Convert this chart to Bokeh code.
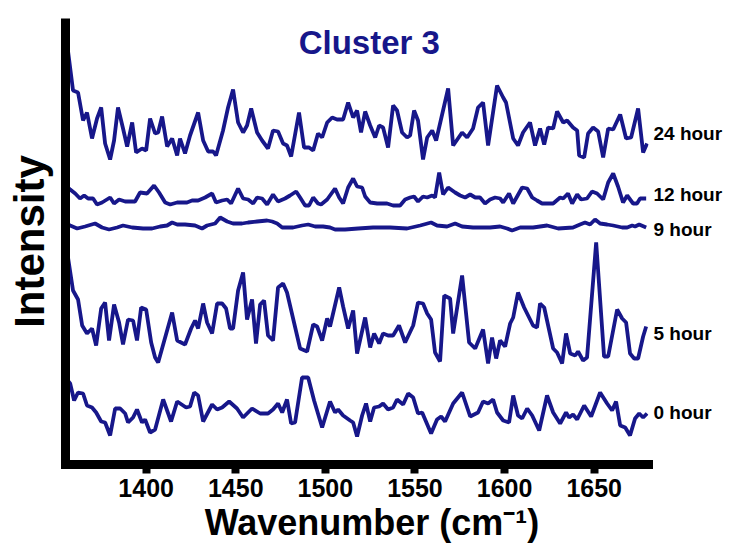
from bokeh.plotting import figure
from bokeh.models import Range1d, FixedTicker, Label, LinearAxis
from bokeh.embed import file_html
from bokeh.resources import INLINE

# ---- data (wavenumber cm-1, intensity a.u. with vertical offsets) ----
wn_24 = [1355.3,1359.2,1362.0,1364.8,1367.0,1369.8,1372.6,1374.9,1377.1,1379.9,1382.1,1384.3,1387.1,1389.4,1392.2,1394.4,1397.7,1400.0,1402.2,1405.0,1406.7,1408.9,1411.7,1414.5,1417.3,1418.9,1421.7,1424.5,1429.0,1431.8,1434.6,1437.4,1439.0,1442.9,1445.7,1448.5,1451.3,1454.1,1456.3,1458.6,1461.9,1464.7,1468.0,1470.8,1473.6,1476.4,1478.6,1480.9,1485.3,1488.1,1490.9,1493.2,1495.9,1498.2,1501.0,1503.8,1506.5,1509.9,1512.7,1515.5,1517.7,1519.9,1522.2,1525.0,1527.8,1530.0,1532.2,1535.0,1537.8,1540.0,1542.8,1545.6,1547.3,1549.5,1551.7,1554.5,1556.8,1559.6,1561.8,1568.5,1571.3,1576.3,1579.1,1582.4,1585.2,1588.0,1590.8,1595.8,1599.2,1600.8,1604.8,1607.5,1610.3,1614.2,1617.0,1619.8,1622.1,1624.3,1627.1,1629.3,1632.7,1634.9,1638.2,1640.5,1641.6,1644.4,1646.6,1649.4,1652.2,1655.0,1657.8,1660.6,1664.5,1667.8,1670.6,1674.5,1677.3,1679.5]
int_24 = [429,374,372,344,352,326,346,357,321,305,324,357,336,318,342,312,316,314,346,331,332,348,318,326,309,326,311,329,352,324,313,313,309,334,357,375,342,332,339,356,332,324,316,334,333,321,319,308,352,317,317,314,331,327,342,347,345,345,362,347,354,332,353,339,327,339,337,317,359,354,332,327,329,354,344,305,327,334,324,376,319,332,327,336,357,362,319,379,367,362,326,319,332,342,319,336,320,337,336,353,342,344,337,334,309,307,331,337,333,307,336,335,350,326,327,356,312,321]

wn_12 = [1355.3,1357.6,1360.4,1363.1,1365.4,1367.6,1370.4,1372.6,1375.4,1379.9,1382.1,1384.9,1388.3,1393.8,1396.6,1400.5,1404.4,1407.2,1410.6,1413.4,1417.3,1420.1,1422.8,1425.6,1429.0,1432.9,1436.8,1439.0,1442.4,1445.2,1447.4,1451.3,1454.1,1456.9,1459.7,1461.9,1464.7,1467.5,1470.8,1473.6,1477.5,1480.3,1483.7,1485.9,1488.7,1490.9,1493.2,1495.9,1497.6,1501.0,1505.4,1507.7,1509.9,1512.7,1515.5,1517.7,1520.5,1522.2,1525.0,1528.9,1534.4,1537.8,1541.7,1544.5,1547.3,1549.5,1551.7,1554.5,1556.8,1559.6,1561.2,1563.5,1565.7,1568.5,1572.4,1575.2,1578.0,1580.8,1583.6,1586.3,1589.1,1591.9,1594.7,1597.5,1599.2,1602.5,1604.8,1609.8,1612.6,1615.4,1618.1,1620.9,1623.7,1627.1,1631.0,1632.7,1635.4,1637.7,1640.5,1642.7,1646.0,1648.8,1651.6,1655.0,1657.8,1660.6,1663.3,1666.1,1668.4,1671.7,1673.9,1675.6,1679.0]
int_12 = [279,275,271,266,269,266,266,260,262,267,261,265,263,263,272,271,279,272,262,260,262,262,262,264,264,267,271,262,264,265,261,276,266,265,261,267,266,260,270,263,266,269,273,267,259,259,267,261,260,265,276,267,261,277,286,278,277,268,262,261,261,259,259,265,267,268,263,268,267,269,267,292,270,277,272,269,267,270,267,267,261,265,267,266,262,271,261,277,276,267,264,261,261,261,267,266,271,261,270,265,266,273,271,265,282,291,278,262,269,261,261,266,266]

wn_9 = [1355.3,1357.6,1361.5,1365.9,1371.5,1375.4,1379.3,1383.8,1387.1,1392.2,1398.3,1403.3,1407.8,1411.7,1414.5,1417.3,1421.7,1427.3,1431.2,1434.0,1438.5,1441.3,1445.2,1448.5,1453.5,1456.9,1461.9,1467.5,1470.3,1473.1,1475.9,1482.0,1487.0,1490.4,1494.3,1498.7,1502.6,1505.4,1511.0,1518.3,1526.6,1536.1,1545.6,1552.9,1559.0,1562.3,1567.9,1572.4,1576.3,1582.4,1591.9,1597.5,1601.4,1604.2,1608.7,1615.9,1623.7,1629.9,1638.2,1642.1,1644.9,1647.7,1650.5,1653.3,1657.2,1660.6,1665.6,1668.4,1671.2,1672.8,1675.1,1679.0]
int_9 = [241,239,236,238,241,237,235,237,239,237,236,236,238,239,242,240,240,239,236,239,241,247,243,241,241,242,243,244,243,241,237,237,239,240,238,238,237,235,235,236,237,237,236,239,242,239,238,241,238,237,237,238,236,234,237,237,239,236,237,240,242,240,245,241,240,239,237,237,239,238,240,237]

wn_5 = [1355.3,1359.2,1362.0,1364.3,1367.0,1369.8,1372.1,1374.9,1377.1,1379.3,1382.1,1384.9,1387.1,1389.9,1392.7,1394.9,1397.2,1400.0,1402.8,1405.0,1406.7,1414.5,1417.3,1421.7,1425.1,1427.3,1429.0,1431.8,1434.0,1436.8,1439.6,1442.4,1444.6,1446.8,1448.5,1451.3,1454.1,1456.3,1459.1,1461.3,1463.6,1465.8,1468.0,1470.8,1473.6,1476.4,1478.6,1485.9,1489.8,1493.2,1495.4,1498.2,1501.0,1502.6,1507.7,1509.9,1512.7,1515.5,1517.7,1522.2,1525.0,1527.2,1530.0,1532.2,1535.0,1537.8,1541.1,1544.5,1549.0,1551.7,1554.5,1556.8,1559.0,1561.2,1564.0,1566.3,1569.6,1571.3,1576.3,1580.2,1583.6,1588.0,1590.8,1593.0,1595.3,1597.5,1600.3,1603.1,1604.8,1607.5,1610.9,1615.9,1618.1,1619.8,1622.1,1627.1,1629.3,1632.1,1634.3,1636.6,1639.4,1641.0,1643.8,1646.0,1651.1,1655.5,1657.8,1662.8,1665.6,1667.8,1670.0,1672.3,1674.5,1677.3,1679.0]
int_5 = [220,174,165,139,131,136,119,156,162,124,160,142,120,145,144,124,157,155,122,107,102,152,124,120,136,144,136,161,142,131,161,161,156,136,136,174,192,145,165,121,160,164,129,124,177,181,172,116,113,140,138,124,146,138,177,158,136,154,111,147,117,131,121,131,129,129,139,122,139,162,161,151,145,112,103,169,166,131,189,122,116,135,101,127,106,124,118,141,147,172,157,139,137,161,157,116,112,101,131,111,109,113,104,107,222,108,108,155,146,142,111,106,106,128,138]

wn_0 = [1355.3,1357.6,1359.8,1362.0,1364.8,1367.0,1369.8,1372.1,1374.9,1377.1,1379.9,1382.7,1385.5,1388.3,1389.9,1392.7,1394.9,1397.7,1399.4,1402.2,1405.0,1409.5,1413.9,1417.3,1422.3,1424.5,1426.8,1429.0,1431.8,1436.8,1439.6,1442.4,1446.3,1450.7,1454.1,1459.1,1463.6,1468.0,1470.8,1473.6,1475.9,1478.6,1480.9,1483.1,1487.0,1490.4,1493.7,1498.2,1502.6,1505.4,1507.1,1509.9,1513.8,1515.5,1517.7,1520.5,1522.7,1525.0,1527.2,1530.0,1532.2,1535.0,1537.8,1540.0,1543.4,1546.2,1549.0,1551.7,1554.0,1559.0,1562.3,1564.6,1566.8,1571.3,1576.3,1580.8,1585.2,1588.0,1590.8,1593.6,1595.8,1599.2,1602.5,1604.8,1607.5,1609.8,1612.6,1615.4,1619.3,1623.7,1627.1,1631.0,1634.3,1636.0,1638.2,1640.5,1644.4,1648.3,1653.3,1657.2,1660.0,1662.2,1664.5,1667.3,1670.0,1672.8,1675.1,1677.3,1679.5]
int_0 = [86,81,64,72,71,59,57,52,43,42,29,56,56,51,42,47,55,42,45,32,35,65,43,63,57,58,72,69,43,60,55,57,63,56,47,56,51,51,55,61,52,65,41,42,87,87,64,37,63,52,55,49,44,42,28,49,61,43,57,58,61,55,57,65,60,71,67,51,52,31,45,48,43,61,72,48,52,63,61,65,52,44,42,69,49,46,56,49,34,69,52,41,52,47,50,45,59,48,72,61,54,63,39,37,29,46,51,47,51]

series_names = ["24 hour", "12 hour", "9 hour", "5 hour", "0 hour"]
label_levels = [331, 270, 235, 131, 52]
tick_values = [1400, 1450, 1500, 1550, 1600, 1650]

LINE = "#17178a"
FONT = "Liberation Sans"

p = figure(width=740, height=547, output_backend="svg", toolbar_location=None,
           title=None, min_border_left=65, min_border_right=92,
           min_border_top=18, min_border_bottom=83)
p.x_range = Range1d(1355, 1680.3)
p.y_range = Range1d(0, 446)
p.outline_line_color = None
p.xgrid.visible = False
p.ygrid.visible = False
p.background_fill_color = "white"
p.border_fill_color = "white"

for xs, ys in [(wn_24, int_24), (wn_12, int_12), (wn_9, int_9), (wn_5, int_5), (wn_0, int_0)]:
    p.line(xs, ys, line_color=LINE, line_width=3.8)

# x axis
xa = p.xaxis[0]
xa.ticker = FixedTicker(ticks=tick_values)
xa.axis_line_width = 9
xa.axis_line_color = "black"
xa.axis_line_cap = "square"
xa.major_tick_line_width = 8
xa.major_tick_line_color = "black"
xa.major_tick_out = 9
xa.major_tick_in = 0
xa.minor_tick_line_color = None
xa.major_label_text_font = FONT
xa.major_label_text_font_style = "bold"
xa.major_label_text_font_size = "25px"
xa.major_label_text_color = "black"
xa.major_label_standoff = 5
xa.axis_label = "\u00a0\u00a0\u00a0Wavenumber (cm\u207b\u00b9)"
xa.axis_label_text_font = FONT
xa.axis_label_text_font_style = "bold"
xa.axis_label_text_font_size = "36px"
xa.axis_label_text_color = "black"
xa.axis_label_standoff = 2

# y axis
ya = p.yaxis[0]
ya.ticker = FixedTicker(ticks=[])
ya.axis_line_width = 9
ya.axis_line_color = "black"
ya.major_tick_line_color = None
ya.minor_tick_line_color = None
ya.axis_label = "Intensity"
ya.axis_label_text_font = FONT
ya.axis_label_text_font_style = "bold"
ya.axis_label_text_font_size = "42px"
ya.axis_label_text_color = "black"
ya.axis_label_standoff = 13

# series names as labels of a right-hand axis
ra = LinearAxis(ticker=FixedTicker(ticks=label_levels),
                major_label_overrides={lvl: name for lvl, name in zip(label_levels, series_names)})
ra.axis_line_color = None
ra.major_tick_line_color = None
ra.minor_tick_line_color = None
ra.major_tick_out = 0
ra.major_tick_in = 0
ra.major_label_standoff = 5
ra.major_label_text_font = FONT
ra.major_label_text_font_style = "bold"
ra.major_label_text_font_size = "19px"
ra.major_label_text_color = "black"
p.add_layout(ra, "right")

# title inside the frame
p.add_layout(Label(x=1524.5, y=422, text="Cluster 3", text_font=FONT,
                   text_font_style="bold", text_font_size="33px",
                   text_color=LINE, text_align="center", text_baseline="middle"))

open("out.html", "w").write(file_html(p, INLINE))
